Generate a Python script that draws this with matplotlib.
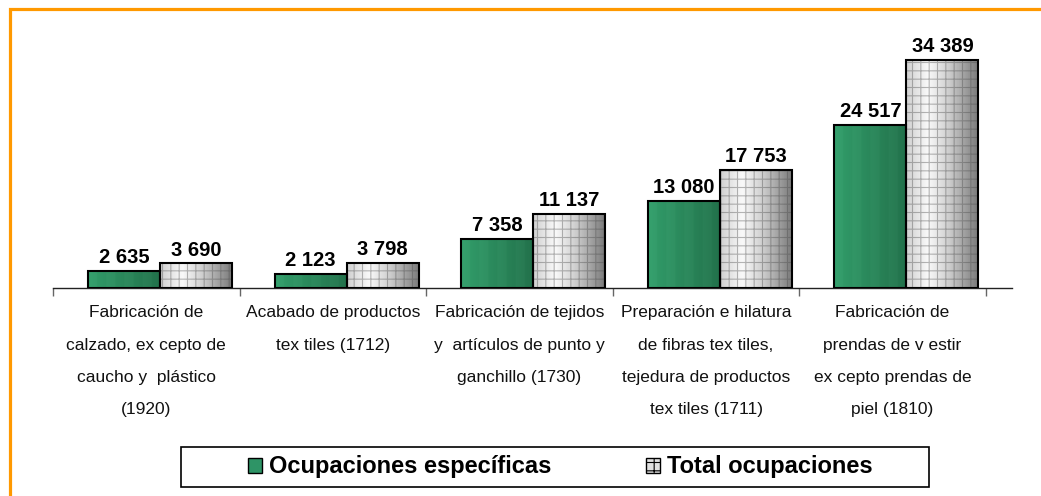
import numpy as np
import matplotlib
matplotlib.use("Agg")
import matplotlib.pyplot as plt
from matplotlib.patches import Rectangle, Patch
from matplotlib import font_manager

names = {f.name for f in font_manager.fontManager.ttflist}
narrow = 'Liberation Sans Narrow' if 'Liberation Sans Narrow' in names else 'Liberation Sans'
plt.rcParams['font.family'] = [narrow, 'DejaVu Sans']
plt.rcParams['hatch.linewidth'] = 0.8

# data
categories = ["Fabricación de\ncalzado, ex cepto de\ncaucho y  plástico\n(1920)",
              "Acabado de productos\ntex tiles (1712)",
              "Fabricación de tejidos\ny  artículos de punto y\nganchillo (1730)",
              "Preparación e hilatura\nde fibras tex tiles,\ntejedura de productos\ntex tiles (1711)",
              "Fabricación de\nprendas de v estir\nex cepto prendas de\npiel (1810)"]
especificas = [2635, 2123, 7358, 13080, 24517]
total = [3690, 3798, 11137, 17753, 34389]
series_names = ["Ocupaciones específicas", "Total ocupaciones"]


def fmt(v):
    return f"{v:,}".replace(",", " ")


W, H = 1041, 496
fig = plt.figure(figsize=(W / 100, H / 100), dpi=100)
ax = fig.add_axes([53 / W, 1 - 288 / H, (1012 - 53) / W, (288 - 30) / H])
ax.set_xlim(-0.5, 4.64)
ax.set_ylim(0, 38855)

x = np.arange(len(categories))
bw = 0.386
off = 0.074

# gradient fills
n = 40
t = np.linspace(0, 1, n)
green_l = np.array([0.21, 0.63, 0.43])
green_r = np.array([0.15, 0.46, 0.31])
g_grad = green_l[None, :] * (1 - t[:, None]) + green_r[None, :] * t[:, None]
bands = (np.floor(t * 8) % 2) * 0.015
g_grad = np.clip(g_grad - bands[:, None], 0, 1)
gray_v = np.interp(t, [0, 0.3, 0.6, 1.0], [0.82, 0.98, 0.80, 0.48])
gr_grad = np.stack([gray_v] * 3, axis=1)

for xi, v in zip(x, especificas):
    x0 = xi + off - bw
    ax.imshow(g_grad[None, :, :], extent=[x0, x0 + bw, 0, v], aspect='auto', zorder=2)
    ax.add_patch(Rectangle((x0, 0), bw, v, fill=False, edgecolor='black', lw=1.5, zorder=4))
    ax.text(x0 + bw / 2, v + 600, fmt(v), ha='center', va='bottom',
            fontsize=14.5, fontweight='bold', zorder=5)

for xi, v in zip(x, total):
    x0 = xi + off
    ax.imshow(gr_grad[None, :, :], extent=[x0, x0 + bw, 0, v], aspect='auto', zorder=2)
    ax.add_patch(Rectangle((x0, 0), bw, v, fill=False, hatch='++', edgecolor=(0.3, 0.3, 0.3, 0.4),
                           lw=0, zorder=3))
    ax.add_patch(Rectangle((x0, 0), bw, v, fill=False, edgecolor='black', lw=1.5, zorder=4))
    ax.text(x0 + bw / 2, v + 600, fmt(v), ha='center', va='bottom',
            fontsize=14.5, fontweight='bold', zorder=5)

# axes styling
for s in ['top', 'right', 'left']:
    ax.spines[s].set_visible(False)
ax.spines['bottom'].set_color('#222222')
ax.spines['bottom'].set_linewidth(1.0)
ax.set_yticks([])
ax.set_xticks(np.arange(-0.5, 5, 1))
ax.set_xticklabels([])
ax.tick_params(axis='x', length=6, color='#666666', width=1)
for xi, lab in zip(x, categories):
    ax.text(xi, -2600, lab, ha='center', va='top', fontsize=12.5,
            linespacing=2.45, color='#111111')

# legend
fig.patches.append(Rectangle((181 / W, 1 - 487 / H), (929 - 181) / W, 40 / H,
                             transform=fig.transFigure, fill=False, edgecolor='black', lw=1.2))
handles = [Patch(facecolor=(0.18, 0.58, 0.40), edgecolor='black', lw=1),
           Patch(facecolor=(0.88, 0.88, 0.88), edgecolor='black', lw=1, hatch='++')]
fig.legend(handles, series_names, loc='center', bbox_to_anchor=(560 / W, 1 - 467 / H),
           ncol=2, frameon=False, prop={'size': 17, 'weight': 'bold'},
           handlelength=0.6, handleheight=0.6, handletextpad=0.3, columnspacing=4.0)

# orange frame
fig.patches.append(Rectangle((9.5 / W, -0.2), 1.2, 1.2 - 8.5 / H,
                             transform=fig.transFigure, fill=False, edgecolor='#FF9900', lw=2.3))

fig.savefig("out.png", dpi=100)
